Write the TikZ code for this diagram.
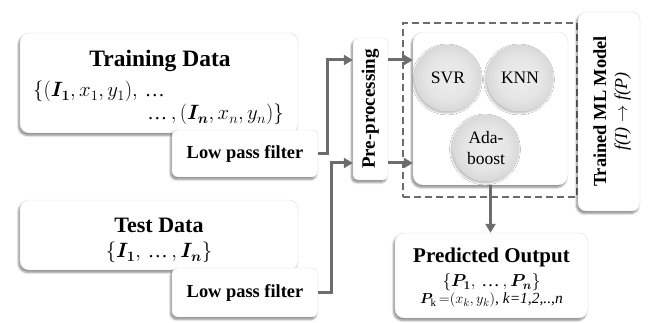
\documentclass[tikz,border=0pt]{standalone}
\usepackage{amsmath,bm}
\usepackage{fontspec}
\setmainfont{Liberation Serif}
\usetikzlibrary{arrows.meta,shadows.blur}

\pgfdeclareradialshading{orb}{\pgfpoint{0bp}{0bp}}{%
  color(0bp)=(gray!14); color(16bp)=(gray!20); color(30bp)=(gray!36); color(42bp)=(gray!56); color(50bp)=(gray!76)}

\newcommand{\tdots}{\mbox{\normalfont\textellipsis}}

\tikzset{
  card/.style={draw=gray!25, line width=0.4pt, fill=white, rounded corners=9pt,
    blur shadow={shadow xshift=-1.5pt, shadow yshift=-2.5pt, shadow opacity=45, shadow blur steps=8},
    inner sep=0pt},
  orbnode/.style={circle, shading=orb, minimum size=67pt, inner sep=0pt,
    blur shadow={shadow xshift=-1pt, shadow yshift=-1.5pt, shadow opacity=30, shadow blur steps=6},
    font=\fontsize{17.5}{19}\selectfont},
  flow/.style={draw=gray!85!black, line width=3pt,
    -{Triangle[length=9pt,width=10pt]}},
  feed/.style={draw=gray!85!black, line width=3pt},
  title/.style={font=\fontsize{23.5}{26}\selectfont\bfseries, inner sep=0pt},
  label/.style={font=\fontsize{18.4}{20}\selectfont\bfseries, inner sep=0pt},
  mathline/.style={font=\fontsize{20}{22}\selectfont, inner sep=0pt},
}

\begin{document}
\begin{tikzpicture}[x=1pt,y=-1pt]
\useasboundingbox (0,0) rectangle (649,323);

% training data
\node[card, minimum width=278pt, minimum height=100pt] (train) at (159,83) {};
\node[title, anchor=base] (traint) at (160,67) {Training Data};
\node[mathline, anchor=base west] (trainm1) at (33,97)
  {$\{(\bm{I}_{\bm{1}},x_1,y_1),\,\tdots$};
\node[mathline, anchor=base east] (trainm2) at (284,120)
  {$\tdots\,,(\bm{I}_{\bm{n}},x_n,y_n)\}$};
\node[card, rounded corners=6pt, minimum width=146pt, minimum height=47pt, label] (lpfa) at (245,153.5) {Low pass filter};

% test data
\node[card, minimum width=278pt, minimum height=70pt] (test) at (159,235) {};
\node[title, font=\fontsize{22}{24}\selectfont\bfseries, anchor=base] (testt) at (159,233) {Test Data};
\node[mathline, anchor=base] (testm) at (159,258)
  {$\{\bm{I}_{\bm{1}},\,\tdots\,,\bm{I}_{\bm{n}}\}$};
\node[card, rounded corners=6pt, minimum width=146pt, minimum height=49pt, label] (lpfb) at (245,292.5) {Low pass filter};

% pre-processing
\node[card, rounded corners=5pt, minimum width=35pt, minimum height=142pt] (pre) at (370.5,109) {};
\node[label, font=\fontsize{19}{21}\selectfont\bfseries, rotate=90] (pret) at (pre.center) {Pre-processing};

% model ensemble
\node[draw=gray!85!black, dashed, dash pattern=on 7pt off 4pt, line width=1.5pt,
  minimum width=174pt, minimum height=174pt, inner sep=0pt] (ens) at (490,110) {};
\node[card, rounded corners=10pt, minimum width=155pt, minimum height=153pt] (inner) at (490.5,108.5) {};
\node[orbnode] (svr) at (448,78) {SVR};
\node[orbnode] (knn) at (520,78) {KNN};
\node[orbnode, align=center, font=\fontsize{17.5}{21}\selectfont] (ada) at (486,148) {Ada-\\boost};

% trained model
\node[card, rounded corners=8pt, minimum width=62pt, minimum height=199pt] (trained) at (609,111.5) {};
\node[label, rotate=90, anchor=base] (trainedt) at (606,111.5) {Trained ML Model};
\node[font=\fontsize{18}{20}\selectfont, inner sep=0pt, rotate=90, anchor=base] (trainedf) at (627,111.5)
  {\itshape f(I) $\rightarrow$ f(P)};

% predicted output
\node[card, minimum width=193pt, minimum height=85pt] (pred) at (491.5,275.5) {};
\node[title, font=\fontsize{21}{24}\selectfont\bfseries, anchor=base] (predt) at (491.5,263) {Predicted Output};
\node[mathline, font=\fontsize{18.5}{20}\selectfont, anchor=base] (predm1) at (491.5,287)
  {$\{\bm{P}_{\bm{1}},\,\tdots\,,\bm{P}_{\bm{n}}\}$};
\node[font=\fontsize{15.5}{17}\selectfont, inner sep=0pt, anchor=base] (predm2) at (491.5,304)
  {$\bm{P}_{\mathrm{k}}\,{=}(x_k,y_k)$, \textit{k=1,2,..,n}};

% connectors
\coordinate (ca) at (327,60);
\coordinate (cb) at (331,163);
\draw[feed] (lpfa.east) -| (ca);
\draw[flow] ([xshift=-1.5pt]ca) -- (ca -| pre.west);
\draw[feed] (lpfb.east) -| (cb);
\draw[flow] ([xshift=-1.5pt]cb) -- (cb -| pre.west);
\draw[flow] (pre.east |- ca) -- (inner.west |- ca);
\draw[flow] (pre.east |- cb) -- (inner.west |- cb);
\draw[flow] (inner.south) -- (inner.south |- pred.north);
\end{tikzpicture}
\end{document}
